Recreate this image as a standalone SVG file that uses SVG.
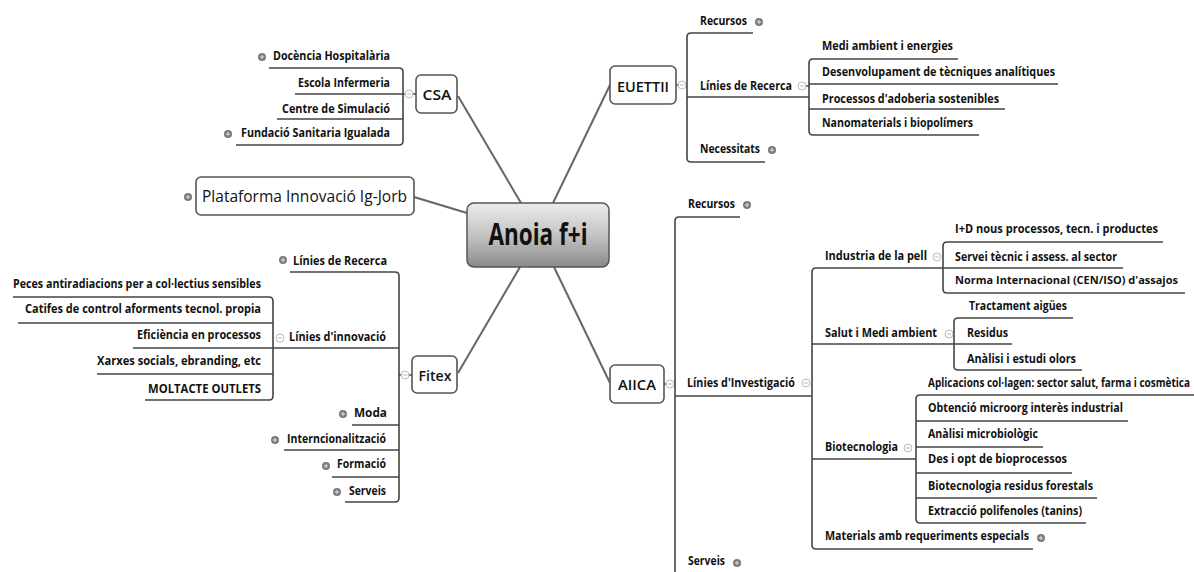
<svg xmlns="http://www.w3.org/2000/svg" width="1194" height="572" viewBox="0 0 1194 572">
<style>
.t{font-family:"Open Sans","Noto Sans",sans-serif;font-size:12px;font-weight:700;fill:#111}
.s{font-size:11px}
.e{text-anchor:end}
.bt{font-family:"Open Sans","Noto Sans",sans-serif;font-size:15px;font-weight:600;fill:#111;text-anchor:middle}
.ln{fill:none;stroke:#444;stroke-width:1.6}
.cn{fill:none;stroke:#666;stroke-width:2}
.box{fill:#fff;stroke:#555;stroke-width:1.6}
.ex{fill:#7a7a7a}
.exp{stroke:#e0e0e0;stroke-width:1}
.co{fill:#fff;stroke:#bbb;stroke-width:1}
.com{stroke:#bbb;stroke-width:1}
</style>
<defs>
<linearGradient id="g" x1="0" y1="0" x2="0" y2="1">
<stop offset="0" stop-color="#ececec"/>
<stop offset="0.5" stop-color="#c4c4c4"/>
<stop offset="1" stop-color="#8a8a8a"/>
</linearGradient>
<g id="plus"><circle r="4" class="ex"/><path d="M-2.2,0H2.2M0,-2.2V2.2" class="exp"/></g>
<g id="minus"><circle r="4" class="co"/><path d="M-2.2,0H2.2" class="com"/></g>
</defs>
<rect width="1194" height="572" fill="#fff"/>

<g id="connectors">
<path class="cn" d="M414,197L467,213"/>
<path class="cn" d="M458,96L521,203"/>
<path class="cn" d="M610,85L553,203"/>
<path class="cn" d="M520,267L458,373"/>
<path class="cn" d="M554,267L610,383"/>
<path class="ln" d="M269,68H399Q403,68 403,72V141Q403,145 399,145H236M277,119H403M295,94H416"/>
<path class="ln" d="M753,33H691Q687,33 687,37V158Q687,162 691,162H765M676,85H687M687,97H809"/>
<path class="ln" d="M958,59H813Q809,59 809,63V131Q809,135 813,135H979M809,84H1058M809,109H1005M798,86H809"/>
<path class="ln" d="M290,272H395Q399,272 399,276V498Q399,502 395,502H345M133,348H399M352,425H399M284,450H399M332,477H399M399,375H412"/>
<path class="ln" d="M13,297H269Q273,297 273,301V396Q273,400 269,400H145M18,323H273M97,374H273"/>
<path class="ln" d="M740,217H679Q675,217 675,221V575M675,396H812M664,384H675"/>
<path class="ln" d="M1033,549H816Q812,549 812,545V272Q812,268 816,268H1123M812,344H1012M812,459H916"/>
<path class="ln" d="M1163,242H947Q943,242 943,246V289Q943,293 947,293H1185"/>
<path class="ln" d="M1073,318H958Q954,318 954,322V366Q954,370 958,370H1082"/>
<path class="ln" d="M1194,395H920Q916,395 916,399V519Q916,523 920,523H1086M916,421H1128M916,447H1043M916,473H1072M916,498H1097"/>
</g>

<g id="center">
<rect x="467" y="203" width="142" height="64" rx="7" fill="url(#g)" stroke="#555" stroke-width="1.5"/>
<text x="538" y="245" text-anchor="middle" font-family="'Open Sans','Noto Sans',sans-serif" font-size="30" font-weight="700" fill="#111" textLength="99" lengthAdjust="spacingAndGlyphs">Anoia f+i</text>
</g>

<g id="plataforma">
<rect class="box" x="196" y="177" width="218" height="38" rx="5"/>
<text x="202" y="202" font-family="'Open Sans','Noto Sans',sans-serif" font-size="17" fill="#111" textLength="205" lengthAdjust="spacingAndGlyphs">Plataforma Innovació Ig-Jorb</text>
<use href="#plus" x="188" y="197"/>
</g>

<g id="csa">
<rect class="box" x="416" y="75" width="41" height="38" rx="5"/>
<text class="bt" x="437" y="100" textLength="29" lengthAdjust="spacingAndGlyphs">CSA</text>
<use href="#minus" x="409" y="94"/>
</g>
<g id="csa-items">
<text class="t e" x="390" y="60" textLength="117" lengthAdjust="spacingAndGlyphs">Docència Hospitalària</text>
<use href="#plus" x="262" y="57"/>
<text class="t e" x="390" y="87" textLength="92" lengthAdjust="spacingAndGlyphs">Escola Infermeria</text>
<text class="t e" x="390" y="113" textLength="108" lengthAdjust="spacingAndGlyphs">Centre de Simulació</text>
<text class="t e" x="390" y="137" textLength="149" lengthAdjust="spacingAndGlyphs">Fundació Sanitaria Igualada</text>
<use href="#plus" x="228" y="134"/>
</g>

<g id="euettii">
<rect class="box" x="610" y="66" width="66" height="38" rx="5"/>
<text class="bt" x="643" y="92" textLength="52" lengthAdjust="spacingAndGlyphs">EUETTII</text>
<use href="#minus" x="682" y="85"/>
</g>
<g id="euettii-items">
<text class="t" x="700" y="25" textLength="47" lengthAdjust="spacingAndGlyphs">Recursos</text>
<use href="#plus" x="759" y="22"/>
<text class="t" x="700" y="90" textLength="92" lengthAdjust="spacingAndGlyphs">Línies de Recerca</text>
<use href="#minus" x="802" y="86"/>
<text class="t" x="700" y="153" textLength="60" lengthAdjust="spacingAndGlyphs">Necessitats</text>
<use href="#plus" x="772" y="150"/>
<text class="t" x="822" y="50" textLength="131" lengthAdjust="spacingAndGlyphs">Medi ambient i energies</text>
<text class="t" x="822" y="76" textLength="233" lengthAdjust="spacingAndGlyphs">Desenvolupament de tècniques analítiques</text>
<text class="t" x="822" y="103" textLength="177" lengthAdjust="spacingAndGlyphs">Processos d'adoberia sostenibles</text>
<text class="t" x="822" y="127" textLength="151" lengthAdjust="spacingAndGlyphs">Nanomaterials i biopolímers</text>
</g>

<g id="fitex">
<rect class="box" x="412" y="356" width="45" height="37" rx="5"/>
<text class="bt" x="435" y="381" textLength="33" lengthAdjust="spacingAndGlyphs">Fitex</text>
<use href="#minus" x="405" y="375"/>
</g>
<g id="fitex-items">
<text class="t e" x="387" y="265" textLength="94" lengthAdjust="spacingAndGlyphs">Línies de Recerca</text>
<use href="#plus" x="283" y="260"/>
<text class="t e" x="386" y="341" textLength="97" lengthAdjust="spacingAndGlyphs">Línies d'innovació</text>
<use href="#minus" x="280" y="338"/>
<text class="t e" x="261" y="288" textLength="248" lengthAdjust="spacingAndGlyphs">Peces antiradiacions per a col·lectius sensibles</text>
<text class="t e" x="261" y="313" textLength="236" lengthAdjust="spacingAndGlyphs">Catifes de control aforments tecnol. propia</text>
<text class="t e" x="261" y="339" textLength="124" lengthAdjust="spacingAndGlyphs">Eficiència en processos</text>
<text class="t e" x="261" y="365" textLength="164" lengthAdjust="spacingAndGlyphs">Xarxes socials, ebranding, etc</text>
<text class="t e" x="261" y="393" textLength="113" lengthAdjust="spacingAndGlyphs">MOLTACTE OUTLETS</text>
<text class="t e" x="387" y="417" textLength="33" lengthAdjust="spacingAndGlyphs">Moda</text>
<use href="#plus" x="343" y="414"/>
<text class="t e" x="386" y="443" textLength="99" lengthAdjust="spacingAndGlyphs">Interncionalització</text>
<use href="#plus" x="275" y="440"/>
<text class="t e" x="386" y="468" textLength="49" lengthAdjust="spacingAndGlyphs">Formació</text>
<use href="#plus" x="326" y="466"/>
<text class="t e" x="386" y="495" textLength="37" lengthAdjust="spacingAndGlyphs">Serveis</text>
<use href="#plus" x="337" y="492"/>
</g>

<g id="aiica">
<rect class="box" x="610" y="365" width="54" height="38" rx="5"/>
<text class="bt" x="637" y="390" textLength="38" lengthAdjust="spacingAndGlyphs">AIICA</text>
<use href="#minus" x="670" y="384"/>
</g>
<g id="aiica-items">
<text class="t" x="688" y="208" textLength="47" lengthAdjust="spacingAndGlyphs">Recursos</text>
<use href="#plus" x="747" y="205"/>
<text class="t" x="687" y="387" textLength="108" lengthAdjust="spacingAndGlyphs">Línies d'Investigació</text>
<use href="#minus" x="806" y="383"/>
<text class="t" x="688" y="565" textLength="37" lengthAdjust="spacingAndGlyphs">Serveis</text>
<use href="#plus" x="737" y="563"/>
<text class="t" x="825" y="260" textLength="102" lengthAdjust="spacingAndGlyphs">Industria de la pell</text>
<use href="#minus" x="937" y="257"/>
<text class="t" x="955" y="233" textLength="203" lengthAdjust="spacingAndGlyphs">I+D nous processos, tecn. i productes</text>
<text class="t" x="955" y="261" textLength="162" lengthAdjust="spacingAndGlyphs">Servei tècnic i assess. al sector</text>
<text class="t s" x="955" y="284" textLength="223" lengthAdjust="spacingAndGlyphs">Norma Internacional (CEN/ISO) d'assajos</text>
<text class="t" x="825" y="337" textLength="112" lengthAdjust="spacingAndGlyphs">Salut i Medi ambient</text>
<use href="#minus" x="949" y="334"/>
<text class="t" x="969" y="310" textLength="98" lengthAdjust="spacingAndGlyphs">Tractament aigües</text>
<text class="t" x="967" y="337" textLength="41" lengthAdjust="spacingAndGlyphs">Residus</text>
<text class="t" x="967" y="363" textLength="109" lengthAdjust="spacingAndGlyphs">Anàlisi i estudi olors</text>
<text class="t" x="825" y="451" textLength="73" lengthAdjust="spacingAndGlyphs">Biotecnologia</text>
<use href="#minus" x="908" y="448"/>
<text class="t" x="928" y="387" textLength="262" lengthAdjust="spacingAndGlyphs">Aplicacions col·lagen: sector salut, farma i cosmètica</text>
<text class="t" x="928" y="412" textLength="195" lengthAdjust="spacingAndGlyphs">Obtenció microorg interès industrial</text>
<text class="t" x="928" y="438" textLength="110" lengthAdjust="spacingAndGlyphs">Anàlisi microbiològic</text>
<text class="t" x="928" y="463" textLength="139" lengthAdjust="spacingAndGlyphs">Des i opt de bioprocessos</text>
<text class="t" x="928" y="490" textLength="165" lengthAdjust="spacingAndGlyphs">Biotecnologia residus forestals</text>
<text class="t" x="928" y="515" textLength="154" lengthAdjust="spacingAndGlyphs">Extracció polifenoles (tanins)</text>
<text class="t" x="825" y="540" textLength="204" lengthAdjust="spacingAndGlyphs">Materials amb requeriments especials</text>
<use href="#plus" x="1041" y="538"/>
</g>
</svg>
